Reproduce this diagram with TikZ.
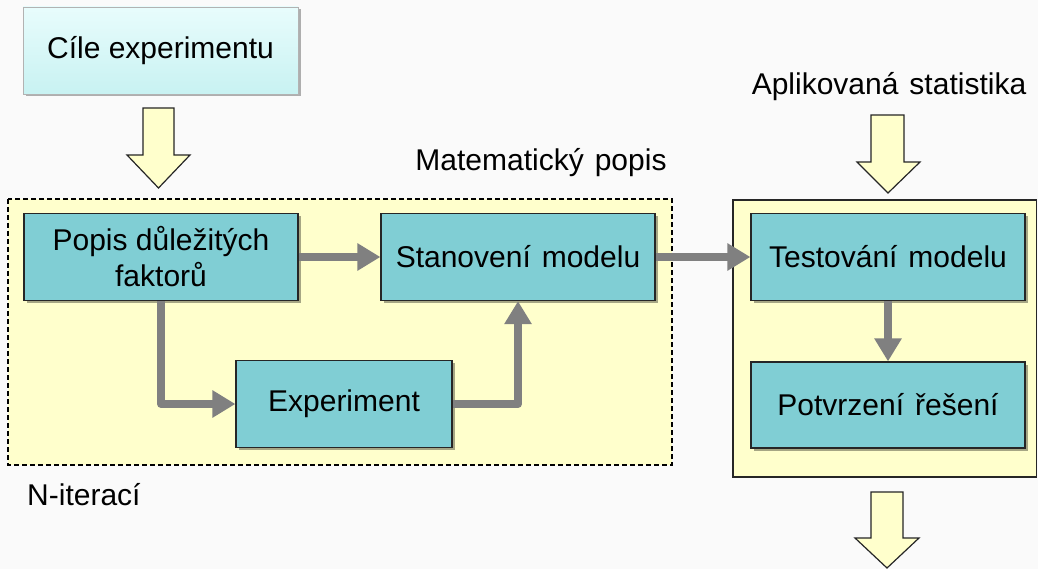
\documentclass[tikz,border=0pt]{standalone}
\usepackage{fontspec}
\setmainfont{Liberation Sans}
\usetikzlibrary{arrows.meta,shadows,calc}
\definecolor{bg}{HTML}{FAFAFA}
\definecolor{teal}{HTML}{80CED4}
\definecolor{paleyel}{HTML}{FFFFCC}
\definecolor{ciletop}{HTML}{E8FCFC}
\definecolor{cilebot}{HTML}{C8F2F2}
\definecolor{conn}{HTML}{808080}
\newcommand{\wsp}{\hspace{11pt}}
\tikzset{
  tealbox/.style={draw=black!85, line width=1.2pt, fill=teal, minimum width=274pt, minimum height=87pt,
    align=center, font=\fontsize{30}{36}\selectfont,
    drop shadow={shadow xshift=2.5pt, shadow yshift=-2.5pt, opacity=0.35, fill=black}},
  conn/.style={draw=conn, line width=8pt, line join=round,
    -{Triangle[length=23pt,width=26pt]}},
  yelarrow/.style={draw=black!85, line width=1.2pt, fill=paleyel, line join=miter},
  lbl/.style={font=\fontsize{30}{36}\selectfont, inner sep=0pt}
}
\begin{document}
\begin{tikzpicture}[x=1pt,y=-1pt]
\useasboundingbox (0,0) rectangle (1038,569);
\fill[bg] (0,0) rectangle (1038,569);

% containers
\draw[fill=paleyel, draw=black, line width=1.3pt, dashed, dash pattern=on 5pt off 3pt] (8,199) rectangle (672,465);
\draw[fill=paleyel, draw=black!85, line width=1.2pt] (733,200) rectangle (1036.5,477);

% top box
\node[draw=black!30, line width=0.8pt, top color=ciletop, bottom color=cilebot,
  minimum width=275pt, minimum height=87pt, font=\fontsize{30}{36}\selectfont,
  drop shadow={shadow xshift=2.5pt, shadow yshift=-2.5pt, opacity=0.3, fill=black}]
  (cile) at (160.5,50.5) {Cíle experimentu};

% boxes
\node[tealbox] (popis) at (161,257) {Popis důležitých\\faktorů};
\node[tealbox] (stan) at (518,257) {Stanovení\wsp modelu};
\node[tealbox, minimum width=216pt] (exp) at (344,404) {Experiment};
\node[tealbox] (test) at (888,257) {Testování\wsp modelu};
\node[tealbox, minimum height=86pt] (potv) at (888,405) {Potvrzení\wsp řešení};

% labels
\node[lbl] (matlbl) at (541,163) {Matematický\wsp popis};
\node[lbl] (aplbl) at (889,87) {Aplikovaná\wsp statistika};
\node[lbl, anchor=west] (nlbl) at (27,495) {N-iterací};

% connectors
\draw[conn] (popis.east) -- (stan.west);
\draw[conn] (popis.south) |- (exp.west);
\draw[conn] (exp.east) -| (stan.south);
\draw[conn] (stan.east) -- (test.west);
\draw[conn] (test.south) -- (potv.north);

% yellow block arrows
\draw[yelarrow] (143,108) -- (174,108) -- (174,155) -- (190,155) -- (158.5,188) -- (127,155) -- (143,155) -- cycle;
\draw[yelarrow] (871,115) -- (904,115) -- (904,162) -- (920,162) -- (888,193) -- (857,162) -- (871,162) -- cycle;
\draw[yelarrow] (871,492) -- (903,492) -- (903,538) -- (919,538) -- (887,568) -- (855,538) -- (871,538) -- cycle;
\end{tikzpicture}
\end{document}
